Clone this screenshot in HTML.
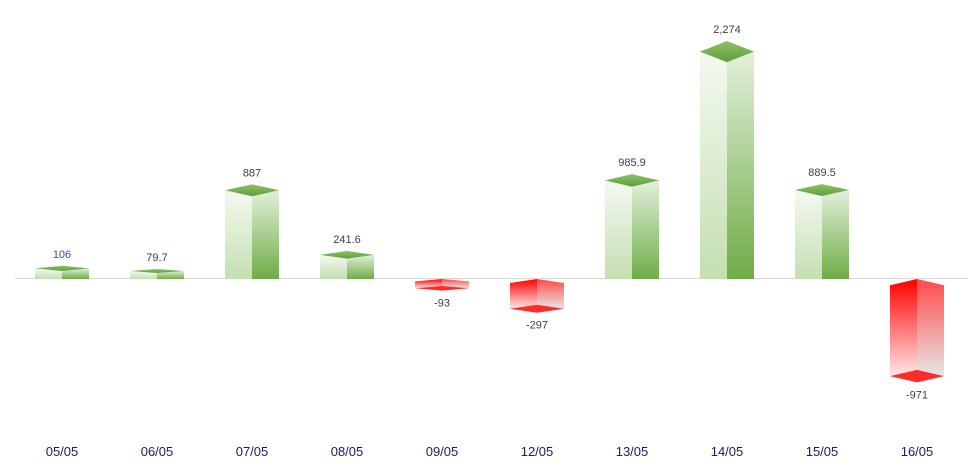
<!DOCTYPE html>
<html><head><meta charset="utf-8"><style>
html,body{margin:0;padding:0;background:#fff;width:968px;height:467px;overflow:hidden}
svg{display:block}
text{font-family:"Liberation Sans",sans-serif}
</style></head><body>
<svg id="s" width="968" height="467" xmlns="http://www.w3.org/2000/svg">
<defs>
<linearGradient id="gl" x1="0" y1="0" x2="0" y2="1"><stop offset="0" stop-color="#f4f9f0"/><stop offset="1" stop-color="#c4dfb2"/></linearGradient>
<linearGradient id="gr" x1="0" y1="0" x2="0" y2="1"><stop offset="0" stop-color="#e3f0db"/><stop offset="1" stop-color="#6fac46"/></linearGradient>
<linearGradient id="gt" x1="0" y1="0" x2="0" y2="1"><stop offset="0" stop-color="#8cc266"/><stop offset="1" stop-color="#5f9e3a"/></linearGradient>
<linearGradient id="rl" x1="0" y1="0" x2="0" y2="1"><stop offset="0" stop-color="#ff0000"/><stop offset="1" stop-color="#ffe8e8"/></linearGradient>
<linearGradient id="rr" x1="0" y1="0" x2="0" y2="1"><stop offset="0" stop-color="#ff4a4a"/><stop offset="1" stop-color="#e6e6e6"/></linearGradient>
</defs>
<line x1="15" y1="278.5" x2="968" y2="278.5" stroke="#d9d9d9" stroke-width="1"/>
</svg>
<script>
var d=[["05/05",106,"106","#2f5597"],["06/05",79.7,"79.7","#2f3f5f"],["07/05",887,"887"],["08/05",241.6,"241.6"],["09/05",-93,"-93"],["12/05",-297,"-297"],["13/05",985.9,"985.9"],["14/05",2274,"2,274"],["15/05",889.5,"889.5"],["16/05",-971,"-971"]];
var s=document.getElementById('s'),h='';
d.forEach(function(e,i){
 var c=62+95*i,v=e[1],hh=Math.abs(v)*0.1,z=279,w=27,col=e[3]||'#404040';
 if(v>0){
  var T=z-hh,dy=Math.min(3+hh/30,hh/4);
  h+='<polygon points="'+(c-w)+','+T+' '+c+','+(T+dy)+' '+c+','+z+' '+(c-w)+','+z+'" fill="url(#gl)"/>';
  h+='<polygon points="'+c+','+(T+dy)+' '+(c+w)+','+T+' '+(c+w)+','+z+' '+c+','+z+'" fill="url(#gr)"/>';
  h+='<polygon points="'+(c-w)+','+T+' '+c+','+(T-dy)+' '+(c+w)+','+T+' '+c+','+(T+dy)+'" fill="url(#gt)"/>';
  h+='<text x="'+c+'" y="'+(T-dy-8)+'" font-size="11" fill="'+col+'" text-anchor="middle">'+e[2]+'</text>';
 }else{
  var B=z+hh,dy=Math.min(3+hh/30,hh/4);
  h+='<polygon points="'+(c-w)+','+(z+dy)+' '+c+','+z+' '+c+','+(B-dy)+' '+(c-w)+','+B+'" fill="url(#rl)"/>';
  h+='<polygon points="'+c+','+z+' '+(c+w)+','+(z+dy)+' '+(c+w)+','+B+' '+c+','+(B-dy)+'" fill="url(#rr)"/>';
  h+='<polygon points="'+(c-w)+','+B+' '+c+','+(B-dy)+' '+(c+w)+','+B+' '+c+','+(B+dy)+'" fill="#ff2a2a"/>';
  h+='<text x="'+c+'" y="'+(B+dy+16)+'" font-size="11" fill="#404040" text-anchor="middle">'+e[2]+'</text>';
 }
 h+='<text x="'+c+'" y="456" font-size="13" fill="#1a1a6a" text-anchor="middle">'+e[0]+'</text>';
});
s.insertAdjacentHTML('beforeend',h);
</script>
</body></html>
